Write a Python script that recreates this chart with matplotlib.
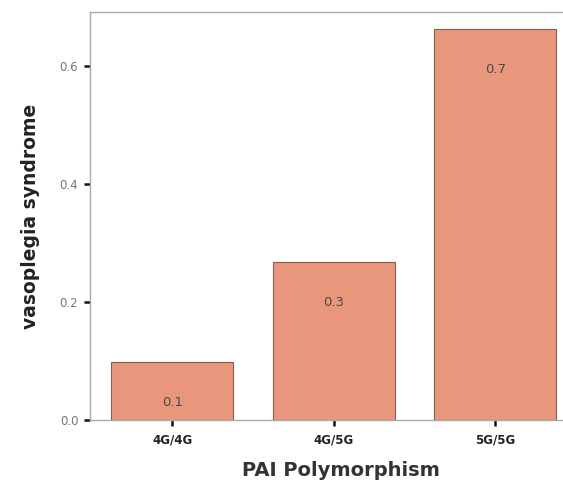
import matplotlib.pyplot as plt

genotypes = ['4G/4G', '4G/5G', '5G/5G']
proportion = [0.098, 0.267, 0.663]
labels = ['0.1', '0.3', '0.7']

plt.rcParams['font.family'] = ['DejaVu Sans']

fig = plt.figure(figsize=(5.63, 4.83), dpi=100)
ax = fig.add_axes([0.16, 0.1304, 0.892, 0.8447])

x = range(len(genotypes))
bars = ax.bar(x, proportion, width=0.755, color='#e8977c',
              edgecolor='#8a5a4c', linewidth=0.8)

for xi, v, lab in zip(x, proportion, labels):
    ax.annotate(lab, (xi, v), xytext=(0, -29), textcoords='offset points',
                ha='center', va='center', fontsize=9.5, color='#4a4a4a')

ax.set_xlim(-0.508, 2.6)
ax.set_ylim(0, 0.6915)
ax.set_xticks(list(x))
ax.set_xticklabels(genotypes, fontsize=8.5, fontweight='bold', color='#222222')
ax.set_yticks([0.0, 0.2, 0.4, 0.6])
ax.set_yticklabels(['0.0', '0.2', '0.4', '0.6'], fontsize=8.5, color='#777777')
ax.tick_params(axis='both', length=4.5, width=1.8, color='#111111')
ax.tick_params(axis='x', pad=5)
ax.tick_params(axis='y', pad=4)

for s in ['left', 'bottom', 'top', 'right']:
    ax.spines[s].set_color('#aaaaaa')
    ax.spines[s].set_linewidth(1.0)

ax.set_xlabel('PAI Polymorphism', fontsize=14, fontweight='bold',
              color='#333333', labelpad=11)
ax.set_ylabel('vasoplegia syndrome', fontsize=13.5, fontweight='bold',
              color='#222222', labelpad=14)

fig.savefig('out.png', dpi=100)
